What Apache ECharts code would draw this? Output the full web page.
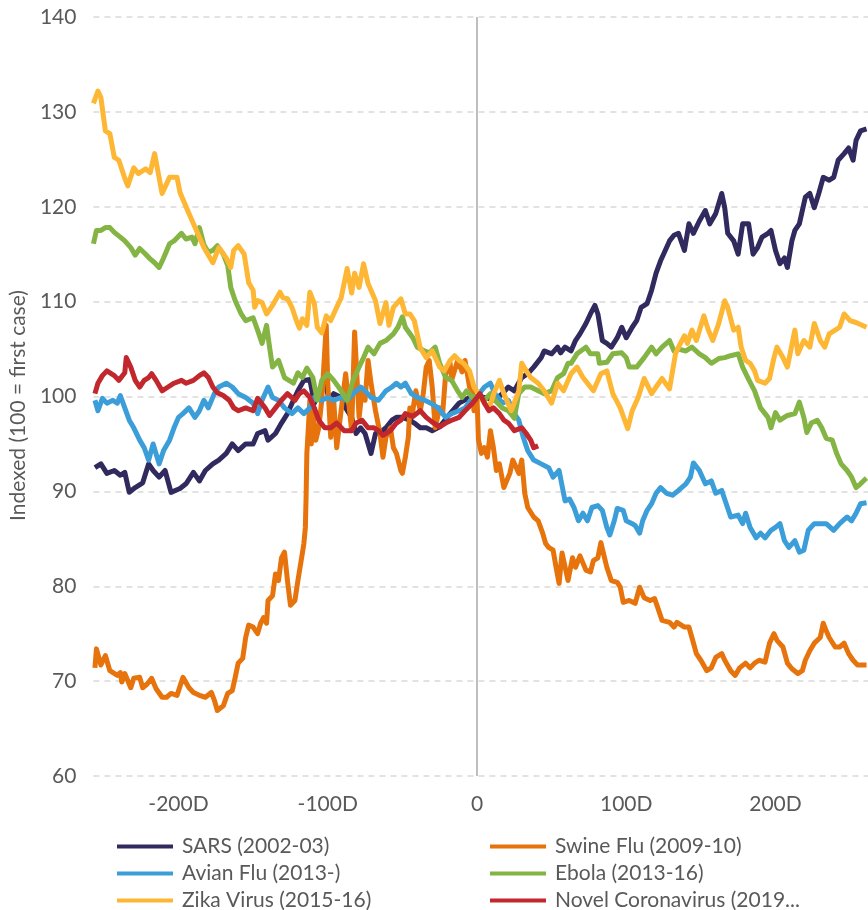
<!DOCTYPE html>
<html>
<head>
<meta charset="utf-8">
<script src="https://cdn.jsdelivr.net/npm/echarts@6/dist/echarts.min.js"></script>
<style>
html,body{margin:0;padding:0;background:#fff;}
#chart{width:868px;height:910px;}
</style>
</head>
<body>
<div id="chart"></div>
<script>
// Series names (legend order, row-major)
const seriesNames = ['SARS (2002-03)','Swine Flu (2009-10)','Avian Flu (2013-)','Ebola (2013-16)','Zika Virus (2015-16)','Novel Coronavirus (2019-20)'];
const yTicks = [60,70,80,90,100,110,120,130,140];
const xTicks = [-200,-100,0,100,200];

// [day relative to first case, index]
const sarsData = [[-256,92.5],[-252,92.9],[-248,91.9],[-243,92.2],[-239,91.7],[-236,92.0],[-233,89.9],[-229,90.4],[-224,90.9],[-220,92.9],[-217,92.2],[-213,91.5],[-209,92.2],[-205,89.9],[-199,90.3],[-195,90.8],[-190,92.0],[-186,91.1],[-182,92.2],[-177,92.9],[-173,93.3],[-168,94.0],[-164,95.0],[-160,94.3],[-155,95.0],[-150,95.0],[-147,96.1],[-142,96.4],[-140,95.4],[-135,96.1],[-131,97.2],[-127,98.2],[-123,99.6],[-120,100.6],[-116,101.7],[-112,101.8],[-109,99.3],[-106,100.3],[-102,101.7],[-99,99.6],[-96,100.3],[-91,99.9],[-88,98.8],[-84,97.8],[-81,96.1],[-78,96.7],[-75,96.1],[-71,94.0],[-68,96.1],[-65,96.2],[-61,96.7],[-57,97.5],[-54,97.8],[-50,97.8],[-45,97.5],[-42,97.2],[-38,96.7],[-34,96.7],[-30,96.4],[-25,96.8],[-18,98.2],[-12,99.3],[-5,99.9],[0,100.0],[5,99.9],[12,99.6],[17,100.3],[21,101.0],[25,100.6],[30,102.0],[34,102.4],[38,103.1],[43,104.1],[45,104.8],[50,104.5],[54,105.2],[56,104.6],[59,105.2],[63,104.8],[66,105.9],[69,106.6],[73,107.7],[76,108.7],[79,109.6],[81,108.7],[84,105.9],[87,105.6],[90,105.2],[94,106.2],[97,107.3],[100,106.2],[104,107.3],[107,108.0],[110,109.4],[114,109.8],[117,111.2],[120,113.0],[123,114.3],[125,115.0],[129,116.4],[132,117.0],[135,117.2],[139,115.4],[142,118.2],[145,117.2],[149,118.5],[153,119.6],[156,118.2],[160,119.3],[164,121.4],[166,119.9],[168,117.2],[172,116.4],[175,115.0],[178,118.2],[182,118.2],[185,115.0],[188,115.7],[191,116.8],[195,117.2],[197,117.5],[200,115.4],[203,114.0],[206,114.6],[208,113.6],[211,116.4],[213,117.5],[216,118.2],[220,121.0],[223,121.4],[226,119.9],[229,121.4],[232,123.1],[236,122.8],[239,123.1],[242,124.9],[246,125.6],[249,126.2],[252,124.9],[254,127.0],[257,128.0],[261,128.2]];

const swineData = [[-256,71.4],[-255,73.4],[-252,71.7],[-249,72.7],[-246,71.1],[-241,70.6],[-239,70.9],[-238,69.9],[-236,70.8],[-232,69.3],[-230,70.3],[-226,70.4],[-224,69.3],[-221,69.7],[-218,70.3],[-215,69.2],[-211,68.3],[-208,68.3],[-205,68.7],[-201,68.5],[-197,70.4],[-193,69.3],[-190,68.8],[-186,68.5],[-182,68.3],[-178,68.8],[-176,68.0],[-174,66.9],[-170,67.4],[-167,68.7],[-164,69.0],[-162,70.4],[-160,71.9],[-157,72.4],[-155,74.6],[-153,75.9],[-150,75.7],[-147,75.0],[-145,76.1],[-143,76.7],[-141,76.1],[-140,78.5],[-137,79.0],[-135,81.3],[-133,80.6],[-131,83.0],[-129,83.6],[-127,80.6],[-125,78.0],[-122,78.5],[-120,80.6],[-117,83.5],[-116,84.5],[-115,86.2],[-114.5,89.5],[-114,94.0],[-113,96.7],[-112,99.6],[-111,95.0],[-110,98.5],[-108,95.4],[-106,96.7],[-104,99.6],[-101,107.5],[-100,101.4],[-98,95.7],[-96,99.6],[-94,94.6],[-90,99.9],[-88,102.4],[-84,96.4],[-82,106.8],[-81,103.8],[-79,97.8],[-77,100.6],[-75,99.6],[-73,103.8],[-71,101.4],[-68,98.5],[-65,96.1],[-63,93.6],[-61,95.7],[-58,96.7],[-56,94.6],[-54,94.0],[-51,92.2],[-50,91.9],[-48,93.6],[-46,95.7],[-45,98.8],[-43,98.5],[-41,100.6],[-38,98.5],[-36,100.3],[-34,103.1],[-32,103.8],[-30,101.0],[-28,96.7],[-25,98.8],[-23,98.2],[-21,102.4],[-18,103.5],[-17,101.7],[-13,103.8],[-10,102.6],[-8,103.8],[-5,101.0],[-3,100.6],[-2,98.5],[0,100.0],[1,95.4],[3,94.0],[5,94.6],[7,93.6],[9,96.4],[11,94.6],[13,92.2],[15,92.9],[18,90.4],[22,91.9],[24,93.3],[28,91.9],[30,93.3],[32,89.8],[34,88.3],[38,87.3],[41,86.9],[44,85.6],[46,84.5],[48,84.1],[51,83.8],[53,82.0],[55,80.3],[57,83.5],[61,80.6],[64,83.0],[66,82.0],[69,83.2],[73,81.7],[76,81.5],[78,82.7],[81,83.0],[83,84.6],[84,84.5],[87,82.0],[90,80.6],[94,80.4],[96,79.9],[98,78.3],[102,78.5],[106,78.2],[109,79.9],[112,78.8],[116,78.5],[119,78.7],[121,77.8],[124,76.4],[129,76.2],[132,75.7],[134,76.2],[139,75.7],[142,75.7],[144,74.6],[147,72.9],[150,72.2],[154,71.1],[157,71.4],[160,72.5],[164,72.9],[166,72.2],[170,71.1],[173,70.6],[176,71.4],[180,71.9],[183,71.4],[186,71.9],[189,72.2],[193,72.0],[196,74.0],[199,75.0],[201,74.3],[205,73.6],[208,71.9],[211,71.3],[215,70.8],[218,71.1],[220,72.2],[223,73.2],[226,74.0],[230,74.6],[232,76.1],[234,75.3],[236,74.6],[240,73.6],[243,73.6],[246,74.0],[249,72.9],[252,72.2],[255,71.7],[261,71.7]];

const avianData = [[-256,99.6],[-254,98.5],[-251,99.8],[-248,99.3],[-244,99.6],[-241,99.3],[-239,100.1],[-236,98.8],[-233,97.5],[-230,96.7],[-226,95.4],[-223,94.6],[-220,93.3],[-217,95.0],[-213,92.9],[-210,94.3],[-206,95.4],[-203,96.7],[-200,97.8],[-197,98.2],[-193,98.8],[-189,97.8],[-186,98.5],[-183,99.6],[-180,98.8],[-176,100.3],[-173,101.0],[-168,101.4],[-164,101.0],[-160,100.3],[-155,99.9],[-150,99.3],[-147,98.2],[-144,99.6],[-140,101.0],[-137,99.9],[-133,99.6],[-129,98.8],[-124,98.2],[-120,98.8],[-116,98.2],[-112,98.8],[-109,99.9],[-104,99.6],[-100,99.9],[-96,99.6],[-91,99.9],[-87,99.6],[-83,100.3],[-78,101.0],[-75,100.6],[-71,99.9],[-66,99.6],[-61,100.6],[-57,101.0],[-54,101.4],[-51,101.0],[-48,101.4],[-44,100.3],[-40,99.9],[-35,99.6],[-31,99.3],[-26,98.8],[-21,97.8],[-17,98.2],[-12,98.5],[-8,98.8],[-3,99.9],[0,100.0],[5,101.0],[9,101.4],[12,100.3],[17,99.3],[21,99.6],[25,98.2],[28,97.5],[31,95.7],[34,94.3],[38,93.3],[43,92.9],[48,92.5],[51,91.5],[55,92.2],[59,89.0],[62,89.2],[65,88.3],[68,86.9],[71,87.7],[74,86.9],[77,88.3],[81,88.5],[84,88.0],[87,86.2],[89,85.4],[92,86.9],[94,88.2],[98,88.0],[100,86.9],[104,86.6],[106,86.4],[109,85.6],[111,86.9],[114,88.0],[117,88.7],[120,89.8],[123,90.4],[127,89.8],[131,89.6],[135,90.1],[140,90.8],[143,91.5],[145,93.0],[149,92.2],[153,90.8],[157,91.1],[160,89.8],[164,90.1],[167,88.7],[170,87.3],[175,87.5],[178,86.6],[180,87.7],[183,86.2],[187,85.1],[190,85.6],[193,85.1],[197,85.9],[200,86.2],[203,86.6],[206,84.8],[209,84.1],[213,84.8],[216,83.6],[219,83.8],[222,85.9],[226,86.6],[230,86.6],[234,86.6],[239,85.9],[243,86.6],[248,87.3],[251,86.9],[254,87.7],[257,88.7],[261,88.8]];

const ebolaData = [[-257,116.1],[-255,117.5],[-252,117.5],[-249,117.8],[-246,117.8],[-243,117.3],[-239,116.8],[-236,116.4],[-232,115.7],[-229,114.9],[-226,115.6],[-222,115.0],[-219,114.5],[-216,114.1],[-213,113.6],[-210,114.6],[-206,116.1],[-203,116.4],[-198,117.2],[-195,116.6],[-191,116.8],[-189,116.1],[-186,117.8],[-183,116.0],[-180,115.2],[-177,115.4],[-174,115.9],[-170,115.0],[-167,113.8],[-165,111.5],[-162,110.1],[-158,108.7],[-155,108.0],[-150,108.3],[-147,107.0],[-144,105.6],[-141,107.5],[-139,105.2],[-137,103.1],[-133,103.8],[-129,102.0],[-123,101.4],[-120,102.5],[-117,102.0],[-114,103.0],[-110,102.0],[-107,99.6],[-104,101.7],[-100,102.4],[-96,101.7],[-91,100.6],[-87,99.6],[-83,101.7],[-79,103.1],[-76,104.1],[-73,105.2],[-69,104.5],[-65,105.6],[-61,105.9],[-56,106.6],[-53,107.3],[-50,108.4],[-48,107.3],[-43,106.2],[-40,105.2],[-35,104.8],[-32,104.6],[-28,105.2],[-25,103.5],[-21,102.0],[-17,101.7],[-13,100.6],[-10,99.9],[-7,100.6],[-3,99.9],[0,100.0],[5,99.6],[9,100.3],[12,99.6],[17,98.8],[21,98.5],[25,97.7],[28,100.3],[32,101.0],[36,101.0],[41,100.6],[45,100.3],[50,100.6],[54,102.0],[58,102.4],[61,103.5],[63,103.5],[67,104.5],[73,105.2],[76,104.5],[81,104.5],[82,103.5],[87,103.6],[91,104.5],[97,104.6],[100,104.1],[102,103.1],[107,103.1],[112,104.1],[117,105.2],[120,104.5],[124,105.2],[129,105.9],[132,104.8],[135,105.0],[140,104.8],[144,105.2],[149,104.5],[153,104.1],[157,103.5],[162,104.0],[166,104.1],[170,104.3],[175,104.5],[178,103.1],[182,101.8],[186,100.6],[190,98.8],[195,97.8],[197,96.7],[200,98.3],[203,97.5],[208,98.0],[213,98.2],[216,99.4],[219,97.8],[221,96.2],[224,97.2],[228,97.5],[231,96.7],[234,95.6],[238,95.4],[241,94.0],[244,92.9],[248,92.2],[251,91.5],[254,90.4],[257,90.8],[261,91.4]];

const zikaData = [[-257,130.9],[-254,132.2],[-252,131.5],[-249,128.0],[-246,127.7],[-243,125.2],[-240,124.9],[-236,123.0],[-234,122.2],[-230,124.1],[-227,123.5],[-222,124.0],[-219,123.6],[-216,125.6],[-211,121.4],[-206,123.1],[-201,123.1],[-199,121.5],[-196,120.4],[-193,119.3],[-188,117.5],[-183,115.7],[-177,114.1],[-173,115.7],[-168,114.6],[-165,113.6],[-163,115.4],[-160,115.9],[-156,115.0],[-153,112.0],[-150,111.2],[-149,109.4],[-147,110.1],[-144,109.9],[-141,108.7],[-137,109.6],[-132,111.0],[-130,110.4],[-127,110.3],[-124,109.4],[-121,108.0],[-119,107.2],[-117,108.2],[-114,107.5],[-112,111.0],[-109,109.8],[-107,107.3],[-104,106.7],[-101,108.5],[-98,108.0],[-94,109.4],[-91,110.4],[-87,113.5],[-84,110.9],[-82,113.0],[-79,111.5],[-76,114.0],[-73,111.9],[-68,110.1],[-65,107.7],[-61,109.9],[-59,107.5],[-56,109.4],[-51,110.3],[-48,108.7],[-45,108.7],[-42,108.0],[-38,105.1],[-34,104.1],[-30,104.8],[-25,103.1],[-22,102.7],[-18,103.8],[-15,104.3],[-12,103.8],[-9,103.5],[-5,102.7],[-2,101.0],[1,100.3],[5,99.3],[8,98.8],[12,100.6],[15,101.7],[18,100.3],[23,98.5],[28,100.6],[30,103.5],[33,102.7],[36,102.0],[41,101.4],[45,100.6],[50,99.3],[54,101.4],[58,100.6],[63,102.4],[67,103.1],[71,102.0],[78,100.6],[83,102.4],[87,102.7],[91,100.3],[96,98.8],[101,96.6],[104,98.5],[108,99.9],[112,101.9],[117,100.3],[120,101.0],[124,101.9],[129,100.8],[133,104.5],[135,105.2],[139,106.4],[141,105.6],[144,107.0],[147,105.9],[152,108.5],[155,107.0],[158,105.9],[162,107.7],[166,110.1],[168,109.4],[172,107.0],[175,107.3],[177,105.2],[180,103.8],[183,103.5],[186,102.7],[188,101.7],[193,101.4],[196,101.9],[199,104.1],[201,105.2],[205,104.1],[208,103.1],[213,107.0],[215,104.5],[219,105.9],[223,105.2],[226,107.7],[230,105.9],[233,105.2],[236,106.6],[240,107.0],[243,107.3],[246,108.7],[250,108.0],[254,107.8],[261,107.3]];

const novelData = [[-256,100.3],[-254,101.4],[-251,102.2],[-248,102.7],[-243,102.2],[-240,101.7],[-236,102.5],[-235,104.1],[-232,103.1],[-229,101.7],[-226,101.0],[-223,101.7],[-220,102.0],[-218,102.4],[-215,101.7],[-211,100.6],[-207,101.0],[-203,101.4],[-198,101.7],[-195,101.4],[-190,101.7],[-186,102.2],[-183,102.5],[-180,102.0],[-177,101.0],[-174,100.4],[-170,100.1],[-166,99.6],[-163,98.8],[-160,98.5],[-155,98.8],[-150,98.5],[-147,99.8],[-142,98.8],[-139,98.0],[-135,98.8],[-131,99.6],[-127,100.3],[-122,99.6],[-119,100.3],[-116,100.6],[-112,99.9],[-109,98.8],[-106,97.5],[-102,96.7],[-98,96.7],[-94,97.2],[-89,96.4],[-84,96.4],[-81,97.2],[-77,97.5],[-73,96.7],[-69,96.7],[-66,96.4],[-63,95.9],[-58,96.4],[-54,97.2],[-51,97.5],[-48,98.2],[-43,97.9],[-38,98.5],[-34,97.8],[-30,97.3],[-25,96.8],[-21,97.2],[-17,97.5],[-12,97.8],[-8,98.5],[-3,99.3],[0,99.9],[2,100.3],[5,99.3],[8,98.5],[11,98.8],[15,98.2],[18,97.5],[21,97.2],[25,96.4],[30,96.7],[33,96.1],[36,95.4],[38,94.6],[41,94.8]];

const zeroLine = [[0,60],[0,140]];

const colors = ['#302a5f','#e6730b','#3c9ed9','#84b444','#fdb735','#c1272d'];
const allData = [sarsData, swineData, avianData, ebolaData, zikaData, novelData];

const FONT = 'Lato, "Open Sans", sans-serif';
const TXT = '#595959';
const FS = 21;

const chart = echarts.init(document.getElementById('chart'), null, {renderer:'canvas'});
const series = [{
  name: 'zero', type: 'line', data: zeroLine, silent: true, showSymbol: false,
  lineStyle: {color: '#bfbfbf', width: 2}, z: 1
}];
seriesNames.forEach((n, i) => {
  series.push({
    name: n, type: 'line', data: allData[i], showSymbol: false, symbol: 'none',
    lineStyle: {width: 5, color: colors[i], join: 'round'}, itemStyle: {color: colors[i]},
    emphasis: {disabled: true}, z: 2 + i
  });
});

const legendCommon = {
  orient: 'vertical', top: 836, height: 100, padding: 0,
  itemWidth: 56, itemHeight: 4, itemGap: 6, icon: 'rect',
  textStyle: {fontFamily: FONT, fontSize: FS, color: TXT, lineHeight: 21, padding: [0,0,0,4]},
  selectedMode: false
};

chart.setOption({
  animation: false,
  color: colors,
  grid: {left: 85, right: 0, top: 17, bottom: 134, containLabel: false},
  xAxis: {
    type: 'value', min: -257, max: 262, minInterval: 100, maxInterval: 100,
    axisLine: {show: false}, axisTick: {show: false}, splitLine: {show: false},
    axisLabel: {
      fontFamily: FONT, fontSize: FS, color: TXT, margin: 18,
      showMinLabel: false, showMaxLabel: false,
      formatter: v => xTicks.indexOf(v) < 0 ? '' : (v === 0 ? '0' : v + 'D')
    }
  },
  yAxis: {
    type: 'value', min: yTicks[0], max: yTicks[yTicks.length-1], interval: 10,
    name: 'Indexed (100 = first case)', nameLocation: 'middle', nameGap: 57, nameRotate: 90,
    nameTextStyle: {fontFamily: FONT, fontSize: 21, color: TXT, padding: [0, 18, 0, 0]},
    axisLine: {show: false}, axisTick: {show: false},
    axisLabel: {fontFamily: FONT, fontSize: FS, color: TXT, margin: 17},
    splitLine: {lineStyle: {color: '#d9d9d9', width: 1.5, type: [6,5]}}
  },
  legend: [
    Object.assign({}, legendCommon, {left: 117, data: [seriesNames[0], seriesNames[2], seriesNames[4]]}),
    Object.assign({}, legendCommon, {left: 490, data: [seriesNames[1], seriesNames[3], seriesNames[5]],
      textStyle: Object.assign({}, legendCommon.textStyle, {width: 248, overflow: 'truncate', ellipsis: '...'})})
  ],
  series: series
});
</script>
</body>
</html>
